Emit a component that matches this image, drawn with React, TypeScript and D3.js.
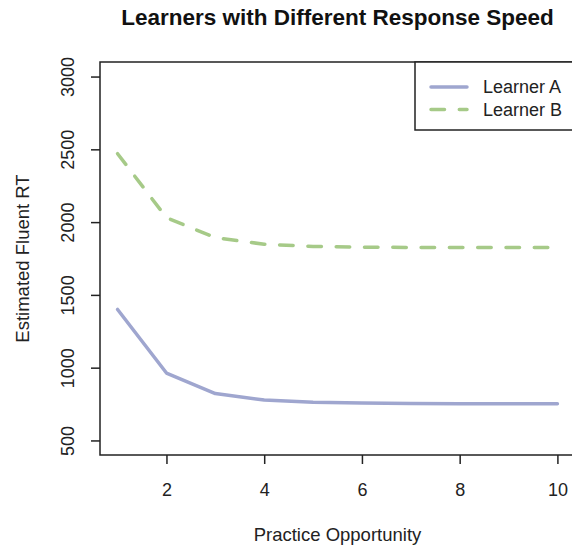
import { useEffect, useRef } from "react";
import * as d3 from "d3";

// practice opportunities and estimated fluent RT per learner
const opportunities = [1, 2, 3, 4, 5, 6, 7, 8, 9, 10];
const learnerA = [1400, 963, 822, 778, 762, 758, 753, 752, 752, 752];
const learnerB = [2470, 2030, 1893, 1848, 1833, 1828, 1826, 1826, 1826, 1826];
const seriesNames = ["Learner A", "Learner B"];
const xTicks = [2, 4, 6, 8, 10];
const yTicks = [500, 1000, 1500, 2000, 2500, 3000];

export default function App() {
  const svgRef = useRef<SVGSVGElement>(null);

  useEffect(() => {
    const width = 572,
      height = 548;
    const left = 100,
      right = 575,
      top = 62,
      bottom = 455;
    const font = "'Liberation Sans', Arial, sans-serif";
    const colors = ["#9fa6cf", "#a6ca88"];
    const dash = "13.5,14.8";

    const x = d3.scaleLinear().domain([0.64, 10.36]).range([left, right]);
    const y = d3.scaleLinear().domain([400, 3100]).range([bottom, top]);

    const svg = d3.select(svgRef.current).attr("width", width).attr("height", height);
    svg.selectAll("*").remove();

    svg.append("rect").attr("width", width).attr("height", height).attr("fill", "#fff");

    // title
    svg
      .append("text")
      .attr("x", (left + right) / 2)
      .attr("y", 25)
      .attr("text-anchor", "middle")
      .style("font-family", font)
      .style("font-weight", "bold")
      .style("font-size", "22.5px")
      .attr("fill", "#111")
      .text("Learners with Different Response Speed");

    // lines
    const line = d3
      .line<number>()
      .x((_, i) => x(opportunities[i]))
      .y((d) => y(d));

    [learnerA, learnerB].forEach((vals, k) => {
      svg
        .append("path")
        .datum(vals)
        .attr("d", line)
        .attr("fill", "none")
        .attr("stroke", colors[k])
        .attr("stroke-width", 3.5)
        .attr("stroke-linejoin", "round")
        .attr("stroke-linecap", "round")
        .attr("stroke-dasharray", k === 1 ? dash : null);
    });

    // plot frame
    svg
      .append("rect")
      .attr("x", left)
      .attr("y", top)
      .attr("width", right - left)
      .attr("height", bottom - top)
      .attr("fill", "none")
      .attr("stroke", "#222")
      .attr("stroke-width", 1.5);

    // x axis
    const gx = svg.append("g").attr("transform", `translate(0,${bottom})`);
    gx.call(d3.axisBottom(x).tickValues(xTicks).tickSize(9).tickFormat(d3.format("d")));
    gx.select(".domain").remove();
    gx.selectAll("line").attr("stroke", "#222").attr("stroke-width", 1.5);
    gx.selectAll("text")
      .attr("y", 41)
      .attr("dy", null)
      .style("font-family", font)
      .style("font-size", "18px")
      .attr("fill", "#222");

    // y axis
    const gy = svg.append("g").attr("transform", `translate(${left},0)`);
    gy.call(d3.axisLeft(y).tickValues(yTicks).tickSize(9).tickFormat(d3.format("d")));
    gy.select(".domain").remove();
    gy.selectAll("line").attr("stroke", "#222").attr("stroke-width", 1.5);
    gy.selectAll("text")
      .attr("x", null)
      .attr("dy", null)
      .attr("transform", "translate(-32.5,0) rotate(-90)")
      .attr("text-anchor", "middle")
      .attr("dominant-baseline", "central")
      .style("font-family", font)
      .style("font-size", "18px")
      .attr("fill", "#222");

    // axis titles
    svg
      .append("text")
      .attr("x", (left + right) / 2)
      .attr("y", 541)
      .attr("text-anchor", "middle")
      .style("font-family", font)
      .style("font-size", "18.5px")
      .attr("fill", "#222")
      .text("Practice Opportunity");

    svg
      .append("text")
      .attr("transform", `translate(29,${(top + bottom) / 2}) rotate(-90)`)
      .attr("text-anchor", "middle")
      .style("font-family", font)
      .style("font-size", "18.5px")
      .attr("fill", "#222")
      .text("Estimated Fluent RT");

    // legend
    const lg = svg.append("g");
    lg.append("rect")
      .attr("x", 415)
      .attr("y", top)
      .attr("width", 170)
      .attr("height", 68)
      .attr("fill", "#fff")
      .attr("stroke", "#222")
      .attr("stroke-width", 1.5);
    seriesNames.forEach((name, k) => {
      const ly = 87 + k * 22.5;
      lg.append("line")
        .attr("x1", 431)
        .attr("x2", 467)
        .attr("y1", ly)
        .attr("y2", ly)
        .attr("stroke", colors[k])
        .attr("stroke-width", 3.5)
        .attr("stroke-linecap", "round")
        .attr("stroke-dasharray", k === 1 ? dash : null);
      lg.append("text")
        .attr("x", 483)
        .attr("y", ly)
        .attr("dominant-baseline", "central")
        .style("font-family", font)
        .style("font-size", "18px")
        .attr("fill", "#222")
        .text(name);
    });
  }, []);

  return <svg ref={svgRef} style={{ position: "absolute", left: 0, top: 0, display: "block" }}></svg>;
}
